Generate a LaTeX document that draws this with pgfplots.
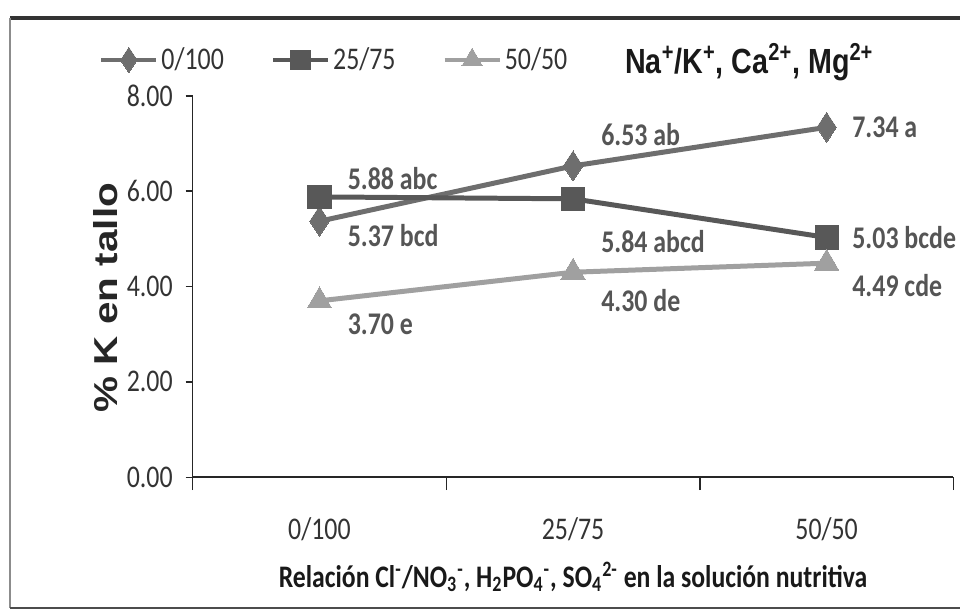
\documentclass[border=0pt]{standalone}
\usepackage{fontspec}
\setmainfont{Carlito}[FakeStretch=0.82]
\newfontfamily\ylabfont{Liberation Sans}[FakeStretch=1.22]
\newfontfamily\nafont{Liberation Sans}[FakeStretch=0.82]
\usepackage{pgfplots}
\pgfplotsset{compat=1.18}
\definecolor{cDia}{HTML}{6E6E6E}
\definecolor{cSq}{HTML}{585858}
\definecolor{cTri}{HTML}{A0A0A0}
\definecolor{cTxt}{HTML}{555555}
\newcommand\tfont{\fontsize{15.8}{18}\selectfont}
\begin{document}
\begin{tikzpicture}
\begin{axis}[
  name=ax,
  scale only axis, width=381pt, height=191pt,
  xmin=-0.5, xmax=2.5, ymin=0, ymax=8,
  axis lines=left,
  axis line style={-, line width=0.8pt, color=black!85},
  tick align=outside,
  xtick={0,1,2}, xticklabels={0/100,25/75,50/50},
  major x tick style={draw=none},
  minor xtick={-0.5,0.5,1.5,2.5},
  minor tick length=6.5pt,
  ytick={0,2,4,6,8}, major tick length=3.5pt,
  tick style={line width=0.7pt, color=black!85},
  y tick label style={/pgf/number format/.cd, fixed, fixed zerofill, precision=2, /tikz/.cd, xshift=-3pt},
  x tick label style={yshift=-13pt},
  /pgf/number format/assume math mode=true,
  ticklabel style={font=\tfont, text=black!80},
  xlabel={\bfseries Relación Cl\textsuperscript{-}/NO\textsubscript{3}\textsuperscript{-}, H\textsubscript{2}PO\textsubscript{4}\textsuperscript{-}, SO\textsubscript{4}\textsuperscript{2-} en la solución nutritiva},
  xlabel style={font=\fontsize{15.7}{18}\selectfont, text=black!90, at={(axis description cs:0.5,-0.262)}, anchor=center},
  ylabel={\ylabfont\bfseries \% K en tallo},
  ylabel style={font=\fontsize{16.6}{18}\selectfont, text=black!85, at={(axis description cs:-0.115,0.471)}, anchor=center},
  clip=false,
  legend columns=3,
  legend style={at={(axis description cs:-0.1234,1.094)}, anchor=west, draw=none, fill=none,
    font=\tfont, text=black!80, inner sep=0pt,
    /tikz/every even column/.append style={column sep=22pt},
    nodes={inner xsep=1.5pt}},
  legend image code/.code={
    \draw[mark repeat=2,mark phase=2,#1,line width=2.2pt,every mark/.append style={scale=0.85}]
      plot coordinates {(0pt,0pt) (13.75pt,0pt) (27.5pt,0pt)};
  },
]
\addplot[color=cDia, line width=2.5pt, mark=diamond*, mark size=6.5pt, mark options={fill=cDia, line width=0pt, yscale=1.15}]
  coordinates {(0,5.37) (1,6.53) (2,7.34)};
\addlegendentry{0/100}
\addplot[color=cSq, line width=2.5pt, mark=square*, mark size=5.8pt, mark options={fill=cSq, line width=0pt}]
  coordinates {(0,5.88) (1,5.84) (2,5.03)};
\addlegendentry{25/75}
\addplot[color=cTri, line width=2.5pt, mark=triangle*, mark size=7pt, mark options={fill=cTri, line width=0pt}]
  coordinates {(0,3.70) (1,4.30) (2,4.49)};
\addlegendentry{50/50}

\begin{scope}[every node/.style={anchor=west, inner sep=0pt, font=\tfont\bfseries, text=cTxt}]
\node at (axis cs:0.11,6.26) {5.88 abc};
\node at (axis cs:0.11,5.06) {5.37 bcd};
\node at (axis cs:0.11,3.20) {3.70 e};
\node at (axis cs:1.11,7.18) {6.53 ab};
\node at (axis cs:1.11,4.94) {5.84 abcd};
\node at (axis cs:1.11,3.71) {4.30 de};
\node at (axis cs:2.10,7.34) {7.34 a};
\node at (axis cs:2.10,5.03) {5.03 bcde};
\node at (axis cs:2.10,4.03) {4.49 cde};
\end{scope}
\node[anchor=west, inner sep=0pt, font={\nafont\bfseries\fontsize{17.5}{19}\selectfont}, text=black!90]
  at (axis description cs:0.568,1.089) {Na\textsuperscript{+}/K\textsuperscript{+}, Ca\textsuperscript{2+}, Mg\textsuperscript{2+}};
\end{axis}
\draw[line width=1.6pt, black!80] (-91.5pt,230pt) -- (384.5pt,230pt);
\draw[line width=0.8pt, black!45] (-91.5pt,230pt) -- (-91.5pt,-65.5pt);
\draw[line width=1.2pt, black!70] (-91.5pt,-65.5pt) -- (384.5pt,-65.5pt);
\useasboundingbox (-96.5pt,-68.5pt) rectangle (384.5pt,239pt);
\end{tikzpicture}
\end{document}
